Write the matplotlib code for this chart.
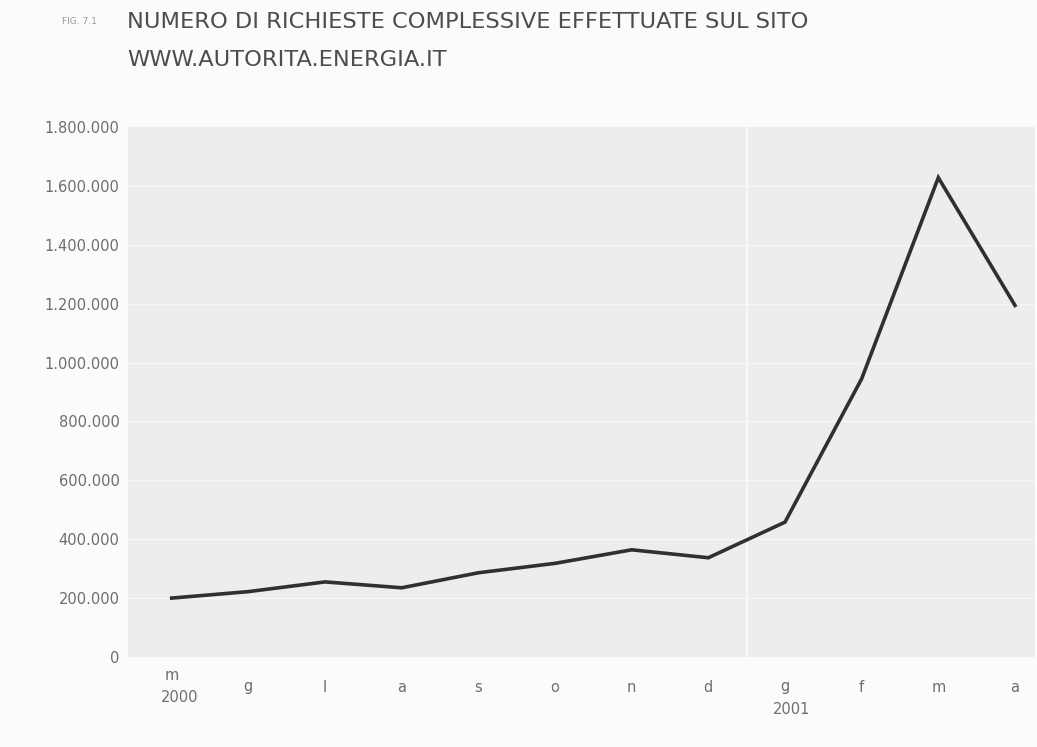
import matplotlib.pyplot as plt
import numpy as np
from matplotlib.ticker import FuncFormatter
import matplotlib.transforms as mtransforms

# Months from May 2000 to April 2001 (Italian initials)
months = ['m', 'g', 'l', 'a', 's', 'o', 'n', 'd', 'g', 'f', 'm', 'a']
years = {0: '2000', 8: '2001'}
requests = [200000, 222000, 255000, 235000, 286000, 318000, 364000, 337000,
            458000, 945000, 1628000, 1194000]
y_ticks = [0, 200000, 400000, 600000, 800000, 1000000, 1200000, 1400000,
           1600000, 1800000]

plt.rcParams['font.family'] = ['DejaVu Sans']

fig = plt.figure(figsize=(10.37, 7.47), dpi=100)
fig.patch.set_facecolor('#fbfbfb')
ax = fig.add_axes([0.1234, 0.1205, 0.8746, 0.7095])
ax.set_facecolor('#ededed')

x = np.arange(len(months))

# faint white horizontal gridlines and year separator
for t in y_ticks[1:-1]:
    ax.axhline(t, color='#f7f7f7', lw=1.0, zorder=1)
ax.axvline(7.5, color='#fafafa', lw=1.5, zorder=1)

ax.plot(x, requests, color='#303030', lw=2.6, solid_joinstyle='miter', zorder=3)

ax.set_xlim(-0.57, 11.26)
ax.set_ylim(0, 1800000)
ax.set_yticks(y_ticks)
ax.yaxis.set_major_formatter(FuncFormatter(lambda v, p: f'{int(v):,}'.replace(',', '.')))
ax.tick_params(axis='y', length=0, pad=6, labelsize=10.5, labelcolor='#6e6e6e')
ax.set_xticks(x)
ax.set_xticklabels([])
ax.tick_params(axis='x', length=0)
for s in ax.spines.values():
    s.set_visible(False)

# month labels below the axis
trans = mtransforms.blended_transform_factory(ax.transData, fig.transFigure)
for i, m in enumerate(months):
    if i == 0:
        ax.text(x[i], 1 - 675 / 747, m, transform=trans, ha='center', va='center',
                fontsize=10.5, color='#6e6e6e')
        ax.text(x[i] + 0.1, 1 - 698 / 747, years[i], transform=trans, ha='center',
                va='center', fontsize=10.5, color='#6e6e6e')
    else:
        ax.text(x[i], 1 - 687 / 747, m, transform=trans, ha='center', va='center',
                fontsize=10.5, color='#6e6e6e')
        if i in years:
            ax.text(x[i] + 0.08, 1 - 710 / 747, years[i], transform=trans,
                    ha='center', va='center', fontsize=10.5, color='#6e6e6e')

# title
fig.text(127 / 1037, 1 - 22 / 747, 'NUMERO DI RICHIESTE COMPLESSIVE EFFETTUATE SUL SITO',
         fontsize=16.2, color='#4d4d4d', va='center', ha='left')
fig.text(127 / 1037, 1 - 60 / 747, 'WWW.AUTORITA.ENERGIA.IT',
         fontsize=16.2, color='#4d4d4d', va='center', ha='left')
fig.text(62 / 1037, 1 - 22 / 747, 'FIG. 7.1', fontsize=6.5, color='#999999',
         va='center', ha='left')

fig.savefig('out.png', dpi=100, facecolor=fig.get_facecolor())
